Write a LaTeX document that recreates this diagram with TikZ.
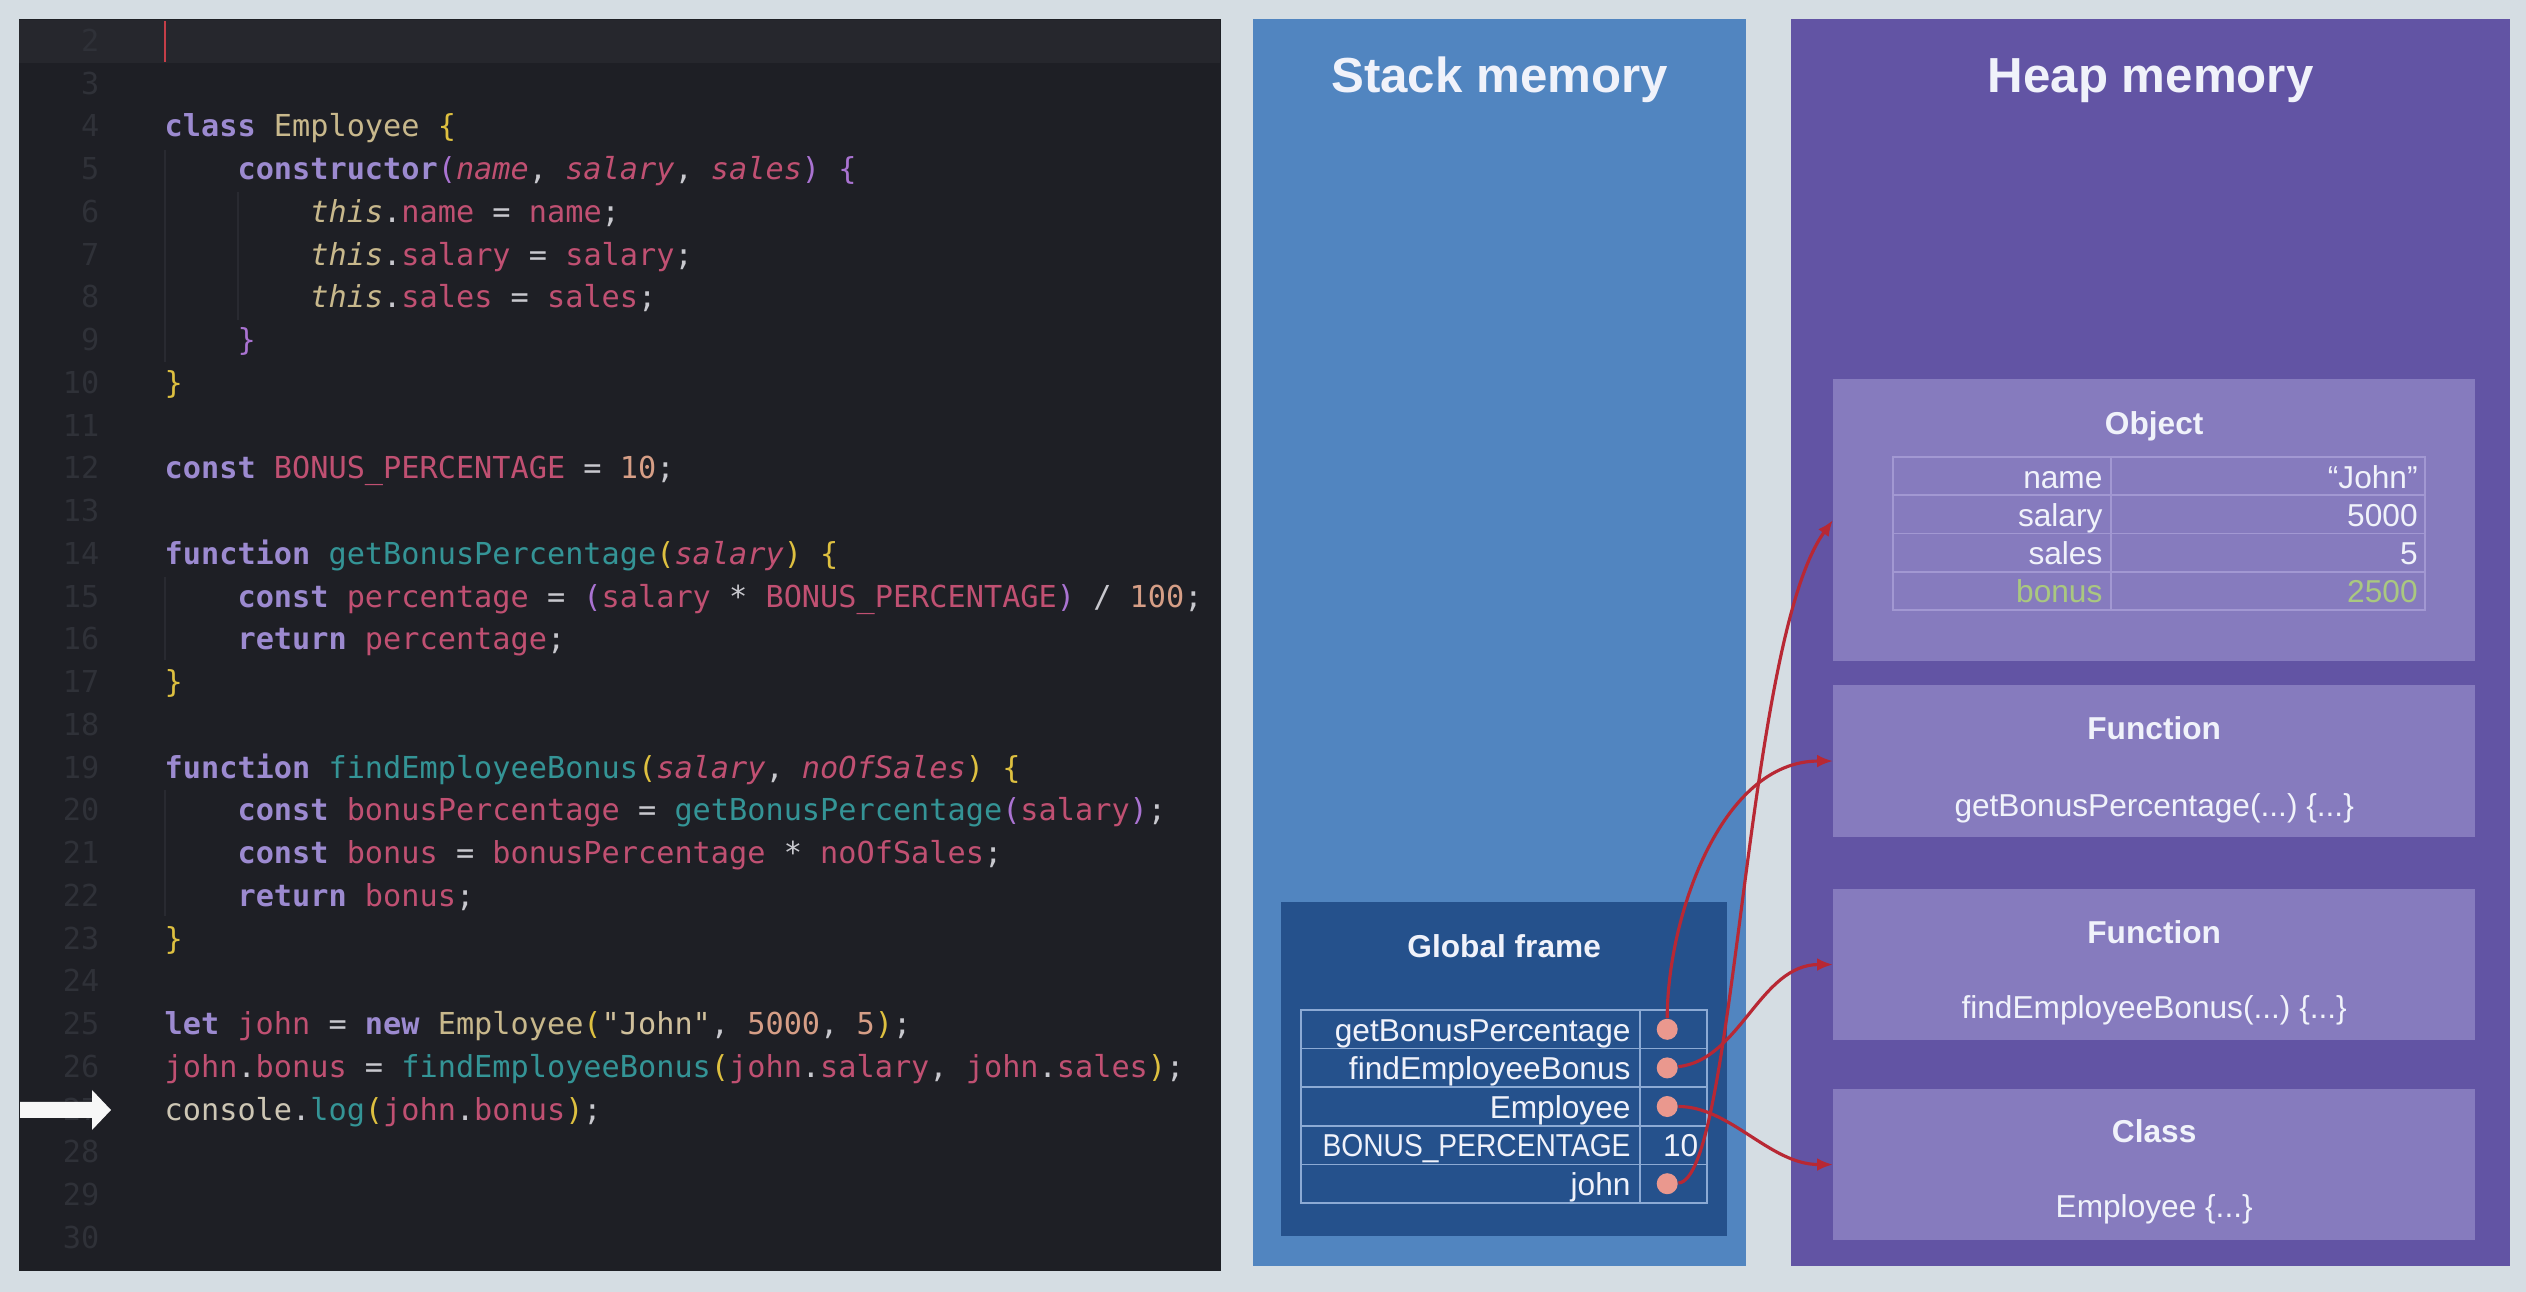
\documentclass[tikz,border=0pt]{standalone}
\usepackage{fontspec}
\setmainfont{Liberation Sans}
\newfontfamily\codefont{DejaVu Sans Mono}
\usetikzlibrary{arrows.meta, positioning, calc}
\frenchspacing

\definecolor{pagebg}{RGB}{213,221,227}
\definecolor{codebg}{RGB}{30,31,37}
\definecolor{curline}{RGB}{38,39,45}
\definecolor{guide}{RGB}{41,42,49}
\definecolor{lnum}{RGB}{47,49,56}
\definecolor{cursorred}{RGB}{196,62,72}
\definecolor{kwcol}{RGB}{156,138,208}
\definecolor{clscol}{RGB}{200,184,140}
\definecolor{varcol}{RGB}{192,80,114}
\definecolor{funcol}{RGB}{52,148,150}
\definecolor{numcol}{RGB}{214,158,134}
\definecolor{strcol}{RGB}{208,192,156}
\definecolor{puncol}{RGB}{200,200,206}
\definecolor{concol}{RGB}{205,198,180}
\definecolor{yelcol}{RGB}{222,192,64}
\definecolor{purcol}{RGB}{170,115,210}
\definecolor{stackblue}{RGB}{81,133,192}
\definecolor{framebox}{RGB}{37,81,140}
\definecolor{frameline}{RGB}{140,170,212}
\definecolor{heappurple}{RGB}{98,84,164}
\definecolor{heapbox}{RGB}{134,123,190}
\definecolor{objline}{RGB}{162,152,210}
\definecolor{lighttext}{RGB}{240,242,250}
\definecolor{bonusgreen}{RGB}{170,200,128}
\definecolor{refred}{RGB}{184,40,52}
\definecolor{dotcol}{RGB}{234,152,142}

% token colours of the editor
\newcommand{\ckw}[1]{\textcolor{kwcol}{\bfseries #1}}
\newcommand{\ccls}[1]{\textcolor{clscol}{#1}}
\newcommand{\cthis}[1]{\textcolor{clscol}{\itshape #1}}
\newcommand{\cvar}[1]{\textcolor{varcol}{#1}}
\newcommand{\cpar}[1]{\textcolor{varcol}{\itshape #1}}
\newcommand{\cfun}[1]{\textcolor{funcol}{#1}}
\newcommand{\cnum}[1]{\textcolor{numcol}{#1}}
\newcommand{\cstr}[1]{\textcolor{strcol}{#1}}
\newcommand{\ccon}[1]{\textcolor{concol}{#1}}
\newcommand{\cyb}[1]{\textcolor{yelcol}{#1}}
\newcommand{\cpb}[1]{\textcolor{purcol}{#1}}

\begin{document}
\begin{tikzpicture}[x=0.01cm, y=-0.01cm,
    panel/.style={anchor=north west, inner sep=0, outer sep=0},
    heapbox/.style={panel, fill=heapbox, minimum width=6.42cm},
    paneltitle/.style={anchor=base, inner sep=0, font=\fontsize{14}{17}\selectfont\bfseries, text=lighttext},
    boxtitle/.style={anchor=base, inner sep=0, font=\fontsize{9}{11}\selectfont\bfseries, text=lighttext},
    boxtext/.style={inner sep=0, font=\fontsize{9}{11}\selectfont, text=lighttext},
    codeline/.style={anchor=base west, inner sep=0, font=\codefont\fontsize{8.6}{10}\selectfont, text=puncol},
    lineno/.style={anchor=base east, inner sep=0, font=\codefont\fontsize{8.6}{10}\selectfont, text=lnum},
    framecell/.style={panel, draw=frameline, line width=0.5pt, minimum height=0.386cm},
    objcell/.style={panel, draw=objline, line width=0.5pt, minimum height=0.3825cm},
    refdot/.style={circle, fill=dotcol, minimum size=0.21cm, inner sep=0},
    pointer/.style={draw=refred, line width=0.9pt, -{Latex[length=1.6mm, width=1.3mm]}}
]
    \fill[pagebg] (0,0) rectangle (2526,1292);
    \useasboundingbox (0,0) rectangle (2526,1292);

    % editor
    \node[panel, fill=codebg, minimum width=12.01cm, minimum height=12.51cm] (editor) at (19,19) {};
    \fill[curline] (19,20) rectangle (1220,63);
    \draw[cursorred, line width=0.6pt] (165,21) -- (165,62);
    \foreach \n in {2,...,30} {
        \coordinate (L\n) at (164, {137+(\n-4)*42.74});
        \node[lineno] (ln\n) at (100, {137+(\n-4)*42.74}) {\n};
    }
    \draw[guide, line width=0.5pt] (165,150) -- (165,362);
    \draw[guide, line width=0.5pt] (238,192) -- (238,320);
    \draw[guide, line width=0.5pt] (165,577) -- (165,660);
    \draw[guide, line width=0.5pt] (165,790) -- (165,916);

    \node[codeline] (c4) at (L4) {\ckw{class} \ccls{Employee} \cyb{\{}};
    \node[codeline] (c5) at ([xshift=0.728cm]L5) {\ckw{constructor}\cpb{(}\cpar{name}, \cpar{salary}, \cpar{sales}\cpb{)} \cpb{\{}};
    \node[codeline] (c6) at ([xshift=1.456cm]L6) {\cthis{this}.\cvar{name} = \cvar{name};};
    \node[codeline] (c7) at ([xshift=1.456cm]L7) {\cthis{this}.\cvar{salary} = \cvar{salary};};
    \node[codeline] (c8) at ([xshift=1.456cm]L8) {\cthis{this}.\cvar{sales} = \cvar{sales};};
    \node[codeline] (c9) at ([xshift=0.728cm]L9) {\cpb{\}}};
    \node[codeline] (c10) at (L10) {\cyb{\}}};
    \node[codeline] (c12) at (L12) {\ckw{const} \cvar{BONUS\_PERCENTAGE} = \cnum{10};};
    \node[codeline] (c14) at (L14) {\ckw{function} \cfun{getBonusPercentage}\cyb{(}\cpar{salary}\cyb{)} \cyb{\{}};
    \node[codeline] (c15) at ([xshift=0.728cm]L15) {\ckw{const} \cvar{percentage} = \cpb{(}\cvar{salary} * \cvar{BONUS\_PERCENTAGE}\cpb{)} / \cnum{100};};
    \node[codeline] (c16) at ([xshift=0.728cm]L16) {\ckw{return} \cvar{percentage};};
    \node[codeline] (c17) at (L17) {\cyb{\}}};
    \node[codeline] (c19) at (L19) {\ckw{function} \cfun{findEmployeeBonus}\cyb{(}\cpar{salary}, \cpar{noOfSales}\cyb{)} \cyb{\{}};
    \node[codeline] (c20) at ([xshift=0.728cm]L20) {\ckw{const} \cvar{bonusPercentage} = \cfun{getBonusPercentage}\cpb{(}\cvar{salary}\cpb{)};};
    \node[codeline] (c21) at ([xshift=0.728cm]L21) {\ckw{const} \cvar{bonus} = \cvar{bonusPercentage} * \cvar{noOfSales};};
    \node[codeline] (c22) at ([xshift=0.728cm]L22) {\ckw{return} \cvar{bonus};};
    \node[codeline] (c23) at (L23) {\cyb{\}}};
    \node[codeline] (c25) at (L25) {\ckw{let} \cvar{john} = \ckw{new} \ccls{Employee}\cyb{(}\cstr{"John"}, \cnum{5000}, \cnum{5}\cyb{)};};
    \node[codeline] (c26) at (L26) {\cvar{john}.\cvar{bonus} = \cfun{findEmployeeBonus}\cyb{(}\cvar{john}.\cvar{salary}, \cvar{john}.\cvar{sales}\cyb{)};};
    \node[codeline] (c27) at (L27) {\ccon{console}.\cfun{log}\cyb{(}\cvar{john}.\cvar{bonus}\cyb{)};};

    % current statement marker
    \fill[white!94!gray] (20,1102) -- (92,1102) -- (92,1090) -- (111,1110) -- (92,1130) -- (92,1118) -- (20,1118) -- cycle;

    % stack
    \node[panel, fill=stackblue, minimum width=4.93cm, minimum height=12.46cm] (stack) at (1253,19) {};
    \node[paneltitle] (stacktitle) at ([yshift=-0.73cm]stack.north) {Stack memory};
    \node[panel, fill=framebox, minimum width=4.46cm, minimum height=3.34cm] (global) at (1281,902) {};
    \node[boxtitle] (globaltitle) at ([yshift=-0.55cm]global.north) {Global frame};
    \foreach \lab [count=\i] in {getBonusPercentage, findEmployeeBonus, Employee, {\scalebox{0.89}[1]{BONUS\_PERCENTAGE}}, john} {
        \node[framecell, minimum width=3.39cm] (key\i) at (1301, {1010+(\i-1)*38.6}) {};
        \node[framecell, minimum width=0.67cm] (val\i) at (key\i.north east) {};
        \node[boxtext, anchor=base east] (lab\i) at ([xshift=-0.09cm, yshift=-0.31cm]key\i.north east) {\lab};
    }
    \foreach \i in {1,2,3,5}
        \node[refdot] (dot\i) at ([xshift=-0.065cm]val\i.center) {};
    \node[boxtext] (bonuspct) at ([xshift=0.07cm]val4.center) {10};

    % heap
    \node[panel, fill=heappurple, minimum width=7.19cm, minimum height=12.46cm] (heap) at (1791,19) {};
    \node[paneltitle] (heaptitle) at ([yshift=-0.73cm]heap.north) {Heap memory};

    \node[heapbox, minimum height=2.82cm] (object) at (1833,379) {};
    \node[boxtitle] (objtitle) at ([yshift=-0.55cm]object.north) {Object};
    \foreach \fk/\fv/\fc [count=\i] in {name/“John”/lighttext, salary/5000/lighttext, sales/5/lighttext, bonus/2500/bonusgreen} {
        \node[objcell, minimum width=2.18cm] (okey\i) at (1893, {457+(\i-1)*38.25}) {};
        \node[objcell, minimum width=3.14cm] (oval\i) at (okey\i.north east) {};
        \node[boxtext, anchor=base east, text=\fc] (olab\i) at ([xshift=-0.08cm, yshift=-0.31cm]okey\i.north east) {\fk};
        \node[boxtext, anchor=base east, text=\fc] (ovtx\i) at ([xshift=-0.07cm, yshift=-0.31cm]oval\i.north east) {\fv};
    }

    \node[heapbox, minimum height=1.52cm] (fnget) at (1833,685) {};
    \node[boxtitle] (fngettitle) at ([yshift=-0.54cm]fnget.north) {Function};
    \node[boxtext, anchor=base] (fngettext) at ([yshift=-1.31cm]fnget.north) {getBonusPercentage(...) \{...\}};

    \node[heapbox, minimum height=1.51cm] (fnfind) at (1833,889) {};
    \node[boxtitle] (fnfindtitle) at ([yshift=-0.54cm]fnfind.north) {Function};
    \node[boxtext, anchor=base] (fnfindtext) at ([yshift=-1.29cm]fnfind.north) {findEmployeeBonus(...) \{...\}};

    \node[heapbox, minimum height=1.51cm] (cls) at (1833,1089) {};
    \node[boxtitle] (clstitle) at ([yshift=-0.53cm]cls.north) {Class};
    \node[boxtext, anchor=base] (clstext) at ([yshift=-1.28cm]cls.north) {Employee \{...\}};

    % references from the global frame
    \draw[pointer] (dot1) .. controls +(0,-110) and +(-113,0) .. (fnget.west);
    \draw[pointer] (dot2) .. controls +(73,-8) and +(-73,0) .. (fnfind.west);
    \draw[pointer] (dot3) .. controls +(63,0) and +(-63,0) .. (cls.west);
    \draw[pointer] (dot5) .. controls +(68,-4) and +(-88,120) .. (object.west);
\end{tikzpicture}
\end{document}
